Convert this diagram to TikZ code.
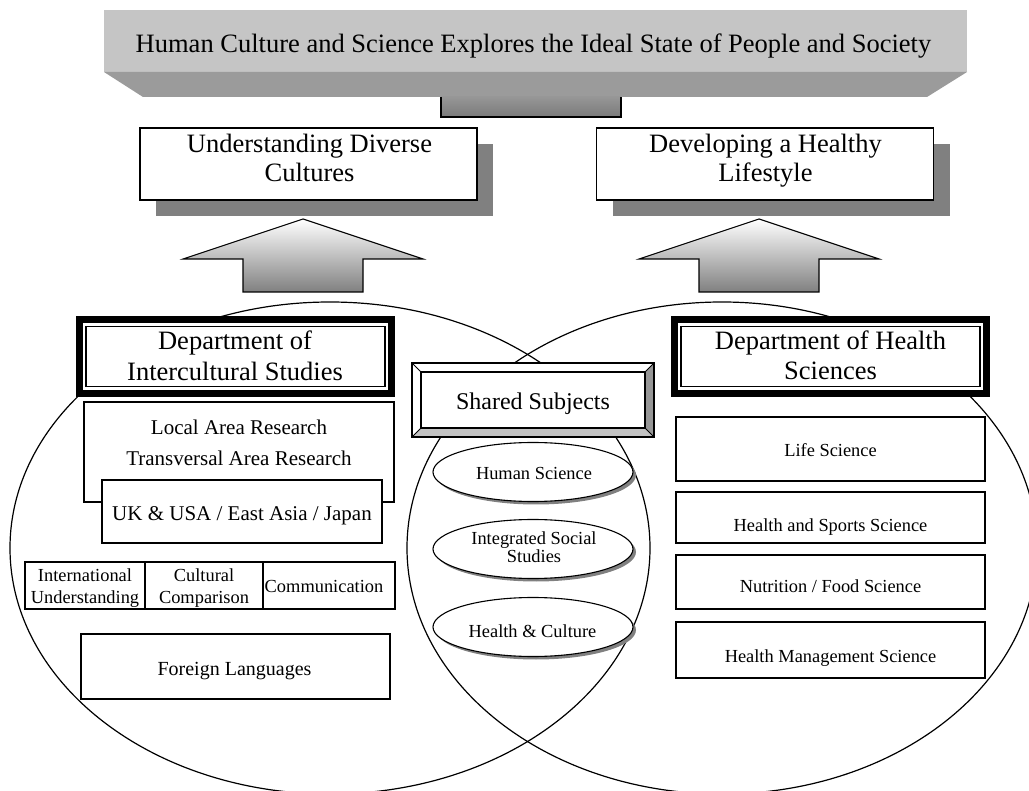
\documentclass[tikz,border=0pt]{standalone}
\usepackage{fontspec}
\setmainfont{Liberation Serif}
\usetikzlibrary{shapes.geometric,shadows}
\definecolor{bannerface}{RGB}{197,197,197}
\definecolor{bannerbevel}{RGB}{155,155,155}
\definecolor{shadowgray}{RGB}{128,128,128}
\definecolor{bevelR}{RGB}{150,150,150}
\definecolor{bevelB}{RGB}{195,195,195}
\definecolor{stemtop}{RGB}{150,150,150}
\definecolor{stembot}{RGB}{122,122,122}
\definecolor{arrowbot}{RGB}{128,128,128}
\newcommand\fsBig{\fontsize{26.5pt}{29pt}\selectfont}
\newcommand\fsMid{\fontsize{21pt}{24pt}\selectfont}
\newcommand\fsFL{\fontsize{20pt}{23pt}\selectfont}
\newcommand\fsSS{\fontsize{24pt}{27pt}\selectfont}
\newcommand\fsSm{\fontsize{18.4pt}{20pt}\selectfont}
\begin{document}
\begin{tikzpicture}[x=1pt,y=-1pt,
  box/.style={draw=black, line width=1.1pt, fill=white, rectangle, inner sep=0pt, outer sep=0pt},
  goalbox/.style={box, minimum width=337pt, minimum height=72pt,
    drop shadow={shadow xshift=16pt, shadow yshift=-16.5pt, fill=shadowgray, opacity=1}},
  deptbox/.style={draw=black, line width=7pt, fill=white, rectangle, inner sep=0pt, outer sep=0pt,
    minimum width=312pt, minimum height=74pt},
  subj/.style={draw=black, line width=1.1pt, fill=white, ellipse, inner sep=0pt, outer sep=0pt,
    minimum width=200pt, minimum height=59pt,
    drop shadow={shadow xshift=3pt, shadow yshift=-3pt, fill=shadowgray, opacity=1}},
  lbl/.style={inner sep=0pt, anchor=base},
  venn/.style={draw=black, line width=1.2pt},
  blockarrow/.style={draw=black, line width=1.1pt, top color=white, bottom color=arrowbot},
]
\useasboundingbox (0,0) rectangle (1029,791);
\clip (0,0) rectangle (1029,791);

% Venn ellipses
\draw[venn] (330,548) ellipse [x radius=320pt, y radius=246pt];
\draw[venn] (722,548) ellipse [x radius=315pt, y radius=246pt];

% banner
\fill[bannerface] (104,10) rectangle (967,72);
\fill[bannerbevel] (104,72) -- (967,72) -- (927,97) -- (143,97) -- cycle;
\shade[top color=stemtop, bottom color=stembot] (441,97) rectangle (621,117);
\draw[line width=1.1pt] (441,97) -- (441,117) -- (621,117) -- (621,97);
\node[lbl, font=\fsBig] (banner) at (533.5,53) {Human Culture and Science Explores the Ideal State of People and Society};

% goal boxes
\node[goalbox] (udc) at (308.5,164) {};
\node[goalbox] (dhl) at (765,164) {};
\node[lbl, font=\fsBig] (udc1) at (309.5,153) {Understanding Diverse};
\node[lbl, font=\fsBig] (udc2) at (309.5,182) {Cultures};
\node[lbl, font=\fsBig] (dhl1) at (765.5,153) {Developing a Healthy};
\node[lbl, font=\fsBig] (dhl2) at (765.5,182) {Lifestyle};

% block arrows
\path[blockarrow] (303,219) -- (423,259) -- (363,259) -- (363,292) -- (243,292) -- (243,259) -- (183,259) -- cycle;
\path[blockarrow] (759,219) -- (879,259) -- (819,259) -- (819,292) -- (699,292) -- (699,259) -- (639,259) -- cycle;

% departments
\node[deptbox] (dis) at (235.5,356.5) {};
\draw[line width=1.1pt] (86,326.5) rectangle (385,386.5);
\node[lbl, font=\fsBig] (dis1) at (235,350) {Department of};
\node[lbl, font=\fsBig] (dis2) at (235,381) {Intercultural Studies};

\node[deptbox] (dhs) at (830.5,356.5) {};
\draw[line width=1.1pt] (681,326.5) rectangle (980,386.5);
\node[lbl, font=\fsBig] (dhs1) at (830.5,350) {Department of Health};
\node[lbl, font=\fsBig] (dhs2) at (830.5,380) {Sciences};

% intercultural content
\node[box, minimum width=310pt, minimum height=100pt] (lar) at (239,452) {};
\node[lbl, font=\fsMid] (lar1) at (239,435) {Local Area Research};
\node[lbl, font=\fsMid] (lar2) at (239,466) {Transversal Area Research};
\node[box, minimum width=280pt, minimum height=63pt] (uk) at (242,511.5) {};
\node[lbl, font=\fsMid] (uk1) at (242,521) {UK \& USA / East Asia / Japan};

\node[box, minimum width=120pt, minimum height=47pt] (intl) at (85,585.5) {};
\node[box, minimum width=118pt, minimum height=47pt] (cult) at (204,585.5) {};
\node[box, minimum width=132pt, minimum height=47pt] (comm) at (329,585.5) {};
\node[lbl, font=\fsSm] (intl1) at (85,582) {International};
\node[lbl, font=\fsSm] (intl2) at (85,603) {Understanding};
\node[lbl, font=\fsSm] (cult1) at (204,582) {Cultural};
\node[lbl, font=\fsSm] (cult2) at (204,603) {Comparison};
\node[lbl, font=\fsSm] (comm1) at (324,592) {Communication};

\node[box, minimum width=309pt, minimum height=65pt] (fl) at (235.5,666.5) {};
\node[lbl, font=\fsFL] (fl1) at (234.5,675) {Foreign Languages};

% shared subjects
\node[box, minimum width=242pt, minimum height=74pt] (ss) at (533,400) {};
\coordinate (ssinw) at (421,372);
\coordinate (ssine) at (645,372);
\coordinate (ssisw) at (421,428);
\coordinate (ssise) at (645,428);
\fill[bevelR] (ss.north east) -- (ss.south east) -- (ssise) -- (ssine) -- cycle;
\fill[bevelB] (ss.south west) -- (ss.south east) -- (ssise) -- (ssisw) -- cycle;
\draw[line width=1.1pt] (ss.north west) rectangle (ss.south east);
\draw[line width=1.1pt] (ssinw) rectangle (ssise);
\draw[line width=0.9pt] (ss.north west) -- (ssinw) (ss.north east) -- (ssine)
  (ss.south west) -- (ssisw) (ss.south east) -- (ssise);
\node[lbl, font=\fsSS] (ss1) at (533,410) {Shared Subjects};

\node[subj] (hs) at (533,472) {};
\node[subj] (iss) at (533,549) {};
\node[subj] (hc) at (533,627) {};
\node[lbl, font=\fsSm] (hs1) at (534,480) {Human Science};
\node[lbl, font=\fsSm] (iss1) at (534,545) {Integrated Social};
\node[lbl, font=\fsSm] (iss2) at (534,563) {Studies};
\node[lbl, font=\fsSm] (hc1) at (532.5,637) {Health \& Culture};

% health sciences content
\node[box, minimum width=309pt, minimum height=64pt] (ls) at (830.5,449) {};
\node[box, minimum width=309pt, minimum height=51pt] (hss) at (830.5,517.5) {};
\node[box, minimum width=309pt, minimum height=54pt] (nfs) at (830.5,582) {};
\node[box, minimum width=309pt, minimum height=56pt] (hms) at (830.5,650) {};
\node[lbl, font=\fsSm] (ls1) at (830.5,457) {Life Science};
\node[lbl, font=\fsSm] (hss1) at (830.5,532) {Health and Sports Science};
\node[lbl, font=\fsSm] (nfs1) at (830.5,593) {Nutrition / Food Science};
\node[lbl, font=\fsSm] (hms1) at (830.5,662) {Health Management Science};
\end{tikzpicture}
\end{document}
